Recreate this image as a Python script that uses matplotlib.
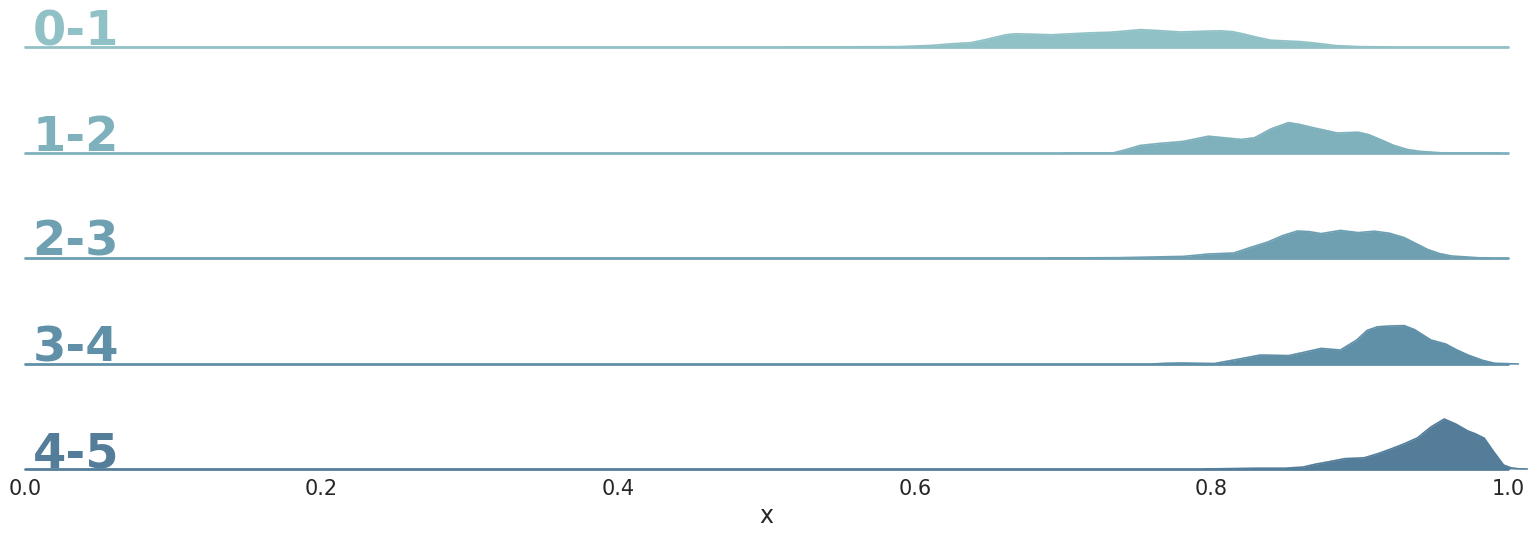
import numpy as np
import seaborn as sns
from matplotlib import pyplot as plt

# group labels
labels = ["0-1", "1-2", "2-3", "3-4", "4-5"]

# density curves (x, density)
x_01 = [0.513, 0.557, 0.590, 0.611, 0.625, 0.638, 0.647, 0.655, 0.662, 0.668, 0.680, 0.692,
        0.705, 0.719, 0.732, 0.742, 0.752, 0.765, 0.779, 0.795, 0.806, 0.814, 0.820, 0.830,
        0.840, 0.860, 0.872, 0.884, 0.900, 0.921]
d_01 = [0.0, 0.05, 0.1, 0.4, 0.8, 1.1, 1.8, 2.5, 3.1, 3.3, 3.2, 3.05,
        3.3, 3.55, 3.7, 4.0, 4.35, 4.1, 3.75, 3.95, 4.05, 3.85, 3.4, 2.5,
        1.7, 1.35, 0.9, 0.35, 0.1, 0.0]

x_12 = [0.700, 0.734, 0.742, 0.752, 0.765, 0.781, 0.798, 0.809, 0.820, 0.829, 0.840, 0.852,
        0.860, 0.869, 0.885, 0.899, 0.906, 0.915, 0.923, 0.932, 0.941, 0.955, 0.995]
d_12 = [0.0, 0.05, 0.8, 1.9, 2.4, 2.9, 4.2, 3.8, 3.4, 3.8, 6.0, 7.6,
        7.1, 6.3, 5.0, 5.2, 4.6, 3.2, 1.9, 0.9, 0.4, 0.05, 0.0]

x_23 = [0.690, 0.737, 0.781, 0.798, 0.815, 0.826, 0.838, 0.848, 0.858, 0.866, 0.874, 0.887,
        0.899, 0.910, 0.920, 0.930, 0.938, 0.946, 0.954, 0.962, 0.982, 0.988]
d_23 = [0.0, 0.08, 0.4, 1.0, 1.25, 2.6, 4.0, 5.6, 6.75, 6.6, 6.1, 6.9,
        6.35, 6.7, 6.2, 5.1, 3.6, 2.1, 1.1, 0.5, 0.02, 0.0]

x_34 = [0.760, 0.770, 0.781, 0.802, 0.818, 0.833, 0.852, 0.862, 0.874, 0.887, 0.898, 0.905,
        0.912, 0.920, 0.930, 0.937, 0.948, 0.958, 0.965, 0.973, 0.983, 0.991, 1.007]
d_34 = [0.0, 0.2, 0.25, 0.12, 1.2, 2.25, 2.1, 2.9, 3.9, 3.5, 6.0, 8.4,
        9.3, 9.5, 9.6, 8.6, 6.0, 5.0, 3.6, 2.25, 0.9, 0.18, 0.0]

x_45 = [0.795, 0.830, 0.850, 0.862, 0.870, 0.879, 0.890, 0.903, 0.912, 0.921, 0.930, 0.939,
        0.948, 0.957, 0.965, 0.973, 0.978, 0.984, 0.990, 0.997, 1.002, 1.007, 1.013]
d_45 = [0.0, 0.2, 0.2, 0.5, 1.2, 1.8, 2.6, 2.8, 3.8, 5.0, 6.3, 7.8,
        10.5, 12.5, 11.2, 9.5, 8.8, 7.7, 4.5, 1.0, 0.3, 0.05, 0.0]

xs = [x_01, x_12, x_23, x_34, x_45]
ds = [d_01, d_12, d_23, d_34, d_45]

sns.set_theme(style="white", rc={"axes.facecolor": (0, 0, 0, 0)})
pal = sns.cubehelix_palette(10, rot=-.25, light=.7)

W, H = 1534, 534
fig = plt.figure(figsize=(W / 100, H / 100), dpi=100)

baselines = [47, 153, 258, 364, 469]
ax_h = 100  # pixels, ylim 0..25 -> 4 px per density unit

for i, lab in enumerate(labels):
    b = baselines[i]
    ax = fig.add_axes([25 / W, (H - b) / H, 1483 / W, ax_h / H])
    col = pal[i]
    x = np.array(xs[i])
    d = np.array(ds[i])
    ax.fill_between(x, 0, d, color=col, lw=0, clip_on=False)
    ax.plot(x, d, color=col, lw=1.2, clip_on=False, solid_joinstyle="round")
    ax.axhline(0, color=col, lw=2, clip_on=False)
    ax.set_xlim(0, 1)
    ax.set_ylim(0, 25)
    ax.set_yticks([])
    ax.text(0.005, 0.02, lab, fontweight="bold", color=col, fontsize=34.5,
            ha="left", va="baseline", transform=ax.transAxes)
    for s in ax.spines.values():
        s.set_visible(False)
    if i < len(labels) - 1:
        ax.set_xticks([])
    else:
        ax.set_xticks([0.0, 0.2, 0.4, 0.6, 0.8, 1.0])
        ax.tick_params(axis="x", length=0, pad=7, labelsize=15)
        ax.set_xlabel("x", fontsize=17, labelpad=4)

fig.savefig("out.png", dpi=100)
